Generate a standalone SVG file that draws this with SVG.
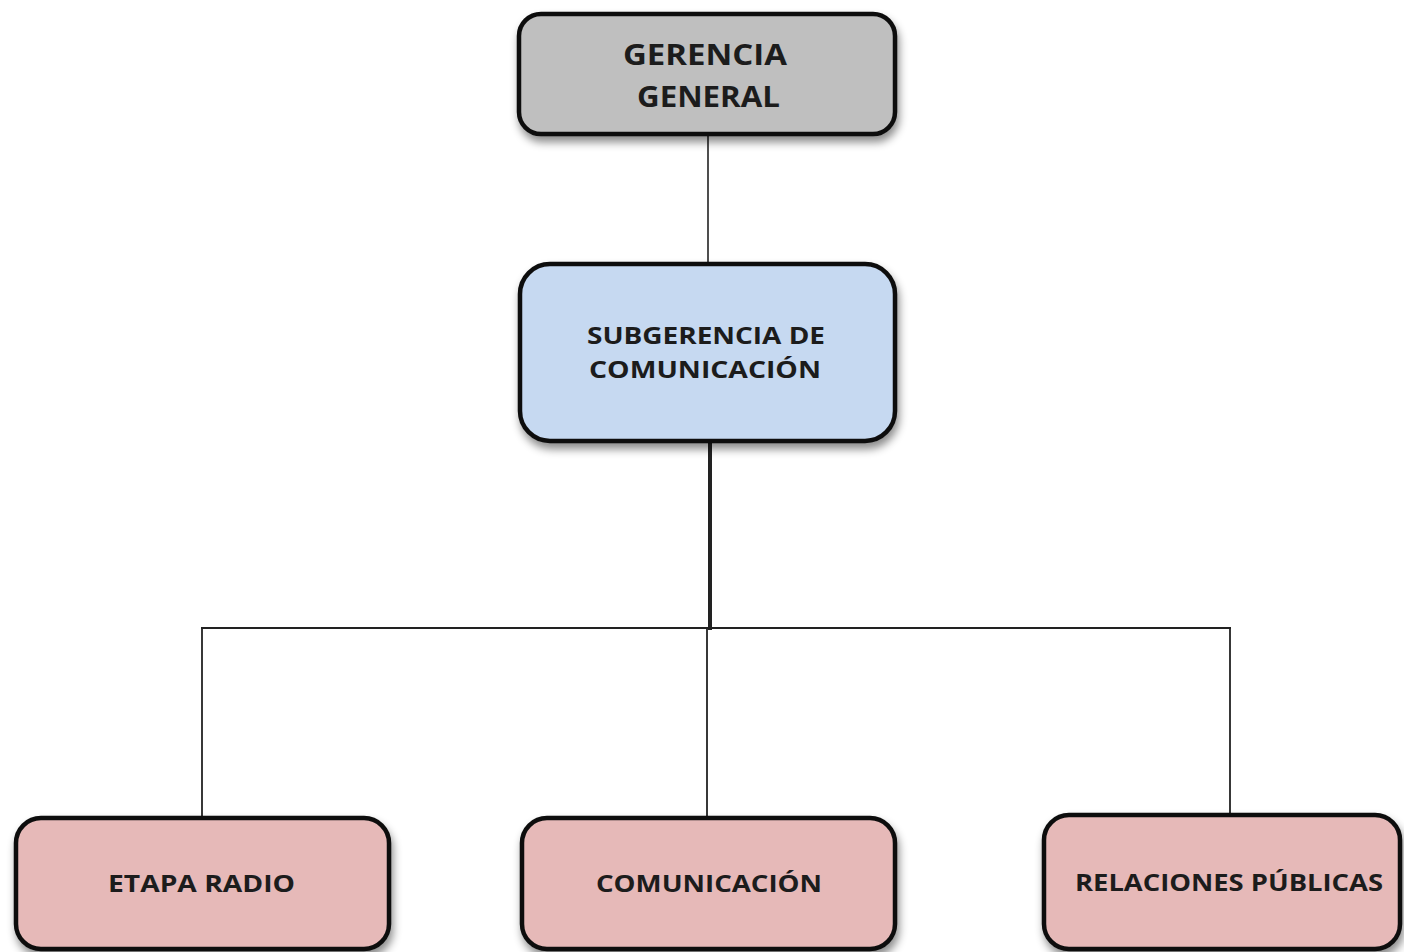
<svg xmlns="http://www.w3.org/2000/svg" width="1404" height="952" viewBox="0 0 1404 952">
<defs>
<filter id="sh" x="-10%" y="-10%" width="125%" height="135%">
<feDropShadow dx="2" dy="6" stdDeviation="4" flood-color="#000" flood-opacity="0.45"/>
</filter>
<style>
.box{stroke:#111;stroke-width:4.5;filter:url(#sh)}
.g{fill:#bfbfbf}
.b{fill:#c6d9f1}
.p{fill:#e6b9b8}
.t{font-family:"Open Sans","DejaVu Sans",sans-serif;font-weight:bold;fill:#1c1c1c;text-anchor:start}
.c{fill:none;stroke:#222}
</style>
</defs>
<rect width="1404" height="952" fill="#fff"/>
<g id="connectors">
<line class="c" x1="708" y1="135" x2="708" y2="263" stroke-width="1.6"/>
<line class="c" x1="710" y1="443" x2="710" y2="630" stroke-width="4"/>
<line class="c" x1="201" y1="628" x2="1231" y2="628" stroke-width="2" stroke="#333"/>
<line class="c" x1="202" y1="628" x2="202" y2="818" stroke-width="1.8"/>
<line class="c" x1="707" y1="628" x2="707" y2="818" stroke-width="1.8"/>
<line class="c" x1="1230" y1="628" x2="1230" y2="815" stroke-width="1.8"/>
</g>
<g id="gerencia-general">
<rect class="box g" x="519" y="14" width="376" height="120" rx="22"/>
<text class="t" x="623" y="65" font-size="29" textLength="164" lengthAdjust="spacingAndGlyphs">GERENCIA</text>
<text class="t" x="637" y="107" font-size="29" textLength="143" lengthAdjust="spacingAndGlyphs">GENERAL</text>
</g>
<g id="subgerencia">
<rect class="box b" x="520" y="264" width="375" height="177" rx="30"/>
<text class="t" x="587" y="344" font-size="24" textLength="238" lengthAdjust="spacingAndGlyphs">SUBGERENCIA DE</text>
<text class="t" x="589" y="378" font-size="24" textLength="232" lengthAdjust="spacingAndGlyphs">COMUNICACIÓN</text>
</g>
<g id="etapa-radio">
<rect class="box p" x="16" y="818" width="373" height="131" rx="25"/>
<text class="t" x="108" y="892" font-size="24" textLength="187" lengthAdjust="spacingAndGlyphs">ETAPA RADIO</text>
</g>
<g id="comunicacion">
<rect class="box p" x="522" y="818" width="373" height="131" rx="25"/>
<text class="t" x="596" y="892" font-size="24" textLength="226" lengthAdjust="spacingAndGlyphs">COMUNICACIÓN</text>
</g>
<g id="relaciones-publicas">
<rect class="box p" x="1044" y="815" width="356" height="134" rx="25"/>
<text class="t" x="1075" y="891" font-size="24" textLength="308" lengthAdjust="spacingAndGlyphs">RELACIONES PÚBLICAS</text>
</g>
</svg>
